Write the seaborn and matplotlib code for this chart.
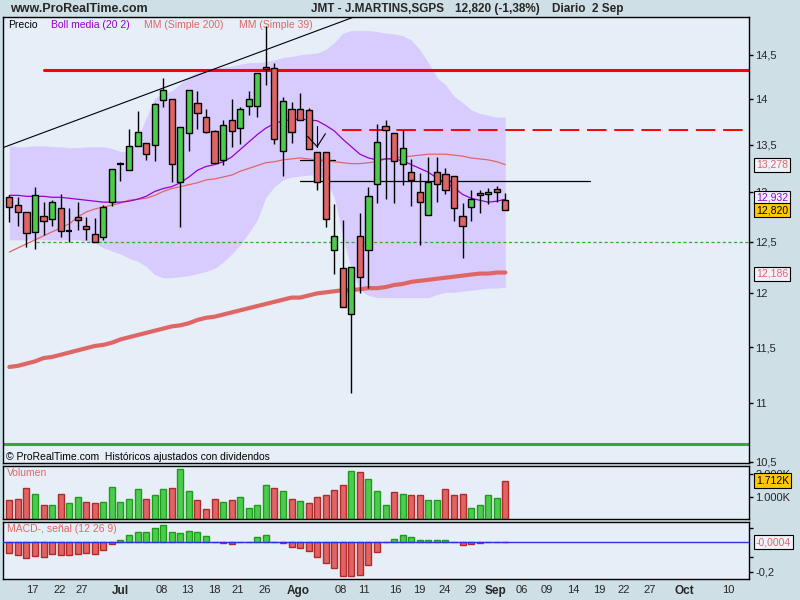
import matplotlib
matplotlib.use("Agg")
import matplotlib.pyplot as plt
from matplotlib.colors import to_hex
from matplotlib.ticker import NullLocator
import seaborn as sns
import pandas as pd
import numpy as np

# daily bars (bar 0 = first visible session)
opens = [12.95, 12.87, 12.80, 12.60, 12.76, 12.73, 12.84, 12.61, 12.75, 12.66,
         12.58, 12.55, 12.90, 13.30, 13.23, 13.49, 13.52, 13.50, 13.99, 14.00,
         13.11, 13.63, 13.96, 13.80, 13.65, 13.34, 13.77, 13.68, 13.92, 13.92,
         14.36, 14.35, 13.43, 13.89, 13.89, 13.88, 13.42, 13.42, 12.42, 12.24,
         11.81, 12.56, 12.42, 13.09, 13.70, 13.63, 13.30, 13.21, 13.00, 12.77,
         13.21, 13.19, 13.17, 12.76, 12.85, 12.99, 12.98, 13.04, 12.92]
highs = [12.97, 12.95, 12.80, 13.06, 12.90, 12.92, 12.98, 12.84, 12.90, 12.75,
         12.74, 12.87, 13.24, 13.32, 13.67, 13.87, 13.52, 13.96, 14.23, 14.00,
         13.69, 14.10, 14.09, 13.89, 13.66, 13.77, 14.00, 13.91, 14.09, 14.29,
         14.83, 14.41, 14.02, 13.97, 14.07, 13.90, 13.42, 13.42, 12.88, 12.72,
         12.25, 12.79, 13.06, 13.73, 13.77, 13.63, 13.66, 13.35, 13.20, 13.37,
         13.37, 13.25, 13.17, 12.89, 13.02, 13.02, 13.05, 13.07, 12.99]
lows = [12.70, 12.66, 12.45, 12.43, 12.57, 12.66, 12.55, 12.50, 12.62, 12.52,
        12.50, 12.52, 12.86, 13.12, 13.23, 13.49, 13.34, 13.33, 13.91, 13.11,
        12.65, 13.43, 13.67, 13.63, 13.31, 13.29, 13.48, 13.51, 13.82, 13.80,
        14.16, 13.51, 13.17, 13.52, 13.77, 13.46, 13.03, 12.65, 12.19, 11.87,
        11.09, 12.00, 12.05, 12.89, 12.93, 12.89, 13.08, 12.86, 12.47, 12.77,
        12.90, 12.98, 12.71, 12.34, 12.71, 12.79, 12.88, 12.90, 12.82]
closes = [12.85, 12.80, 12.59, 12.97, 12.71, 12.90, 12.61, 12.61, 12.72, 12.63,
          12.50, 12.85, 13.24, 13.30, 13.49, 13.64, 13.40, 13.94, 14.10, 13.30,
          13.69, 14.10, 13.84, 13.64, 13.31, 13.71, 13.65, 13.89, 14.00, 14.29,
          14.34, 13.56, 13.98, 13.64, 13.77, 13.46, 13.11, 12.73, 12.56, 11.87,
          12.25, 12.16, 12.96, 13.53, 13.66, 13.33, 13.47, 13.13, 12.90, 13.11,
          13.09, 13.03, 12.84, 12.66, 12.93, 12.97, 13.00, 13.00, 12.82]

boll_upper = [13.49, 13.48, 13.48, 13.49, 13.49, 13.48, 13.48, 13.47, 13.47, 13.48,
              13.48, 13.48, 13.46, 13.43, 13.43, 13.57, 13.79, 14.01, 14.06, 14.09,
              14.17, 14.25, 14.30, 14.33, 14.35, 14.36, 14.37, 14.39, 14.41, 14.41,
              14.42, 14.44, 14.47, 14.48, 14.50, 14.51, 14.52, 14.56, 14.64, 14.75,
              14.78, 14.78, 14.78, 14.77, 14.75, 14.74, 14.72, 14.67, 14.56, 14.41,
              14.24, 14.16, 14.03, 13.96, 13.88, 13.84, 13.82, 13.80, 13.80]
boll_mid = [12.97, 12.97, 12.96, 12.96, 12.96, 12.95, 12.95, 12.94, 12.93, 12.92,
            12.91, 12.90, 12.90, 12.90, 12.91, 12.93, 12.96, 13.01, 13.04, 13.06,
            13.10, 13.16, 13.23, 13.27, 13.29, 13.32, 13.37, 13.45, 13.53, 13.61,
            13.68, 13.73, 13.76, 13.77, 13.78, 13.77, 13.76, 13.71, 13.65, 13.56,
            13.48, 13.40, 13.36, 13.34, 13.35, 13.35, 13.33, 13.29, 13.25, 13.21,
            13.15, 13.10, 13.05, 12.98, 12.94, 12.92, 12.90, 12.91, 12.93]
boll_lower = [12.52, 12.52, 12.52, 12.52, 12.52, 12.52, 12.52, 12.52, 12.52, 12.51,
              12.49, 12.44, 12.41, 12.38, 12.34, 12.31, 12.26, 12.18, 12.15, 12.15,
              12.16, 12.17, 12.19, 12.21, 12.24, 12.30, 12.38, 12.47, 12.59, 12.72,
              12.95, 13.06, 13.13, 13.16, 13.17, 13.18, 13.18, 13.13, 12.95, 12.55,
              12.23, 12.03, 11.98, 11.96, 11.96, 11.96, 11.96, 11.96, 11.96, 11.96,
              11.99, 12.01, 12.01, 12.02, 12.03, 12.04, 12.05, 12.05, 12.06]
mm39 = [12.40, 12.44, 12.48, 12.52, 12.56, 12.60, 12.64, 12.68, 12.75, 12.80,
        12.83, 12.85, 12.87, 12.89, 12.92, 12.93, 12.94, 12.97, 13.01, 13.04,
        13.06, 13.08, 13.10, 13.13, 13.14, 13.16, 13.18, 13.22, 13.25, 13.28,
        13.31, 13.32, 13.34, 13.35, 13.36, 13.35, 13.34, 13.33, 13.32, 13.31,
        13.30, 13.30, 13.31, 13.32, 13.35, 13.36, 13.37, 13.38, 13.39, 13.40,
        13.40, 13.40, 13.39, 13.38, 13.36, 13.35, 13.34, 13.32, 13.29]
mm200 = [11.32, 11.33, 11.35, 11.37, 11.40, 11.41, 11.43, 11.45, 11.47, 11.49,
         11.51, 11.52, 11.54, 11.57, 11.59, 11.61, 11.63, 11.65, 11.67, 11.69,
         11.70, 11.72, 11.75, 11.77, 11.78, 11.80, 11.82, 11.84, 11.86, 11.88,
         11.90, 11.92, 11.94, 11.96, 11.96, 11.98, 12.00, 12.01, 12.02, 12.03,
         12.03, 12.04, 12.05, 12.05, 12.06, 12.08, 12.09, 12.11, 12.12, 12.13,
         12.14, 12.15, 12.16, 12.17, 12.18, 12.19, 12.19, 12.20, 12.20]

# volume in thousands, with the colour the chart gives each bar
volume_k = [0.84, 0.91, 1.39, 1.10, 0.61, 0.61, 1.13, 0.71, 0.96, 0.75,
            0.71, 0.75, 1.43, 0.75, 0.88, 1.35, 0.88, 1.06, 1.32, 1.39,
            2.22, 1.26, 0.84, 0.45, 0.88, 0.75, 0.84, 1.00, 0.49, 0.62,
            1.53, 1.39, 1.26, 0.88, 0.80, 0.71, 0.97, 1.06, 1.27, 1.53,
            2.14, 2.10, 1.78, 1.23, 0.62, 1.19, 1.10, 1.06, 1.06, 0.84,
            0.84, 1.32, 1.06, 1.10, 0.49, 0.62, 1.06, 0.93, 1.712]
volume_dir = ["down", "down", "down", "up", "down", "up", "down", "up", "up", "down",
              "down", "up", "up", "up", "up", "up", "down", "up", "up", "down",
              "up", "up", "down", "down", "down", "up", "down", "up", "up", "up",
              "up", "down", "up", "down", "up", "down", "down", "down", "down", "down",
              "up", "down", "up", "up", "up", "down", "up", "down", "down", "up",
              "up", "down", "down", "down", "up", "up", "up", "up", "down"]

macd_hist = [-0.075, -0.088, -0.109, -0.091, -0.098, -0.082, -0.088, -0.088, -0.082, -0.075,
             -0.082, -0.055, -0.014, 0.016, 0.048, 0.070, 0.070, 0.095, 0.116, 0.070,
             0.063, 0.077, 0.070, 0.041, 0.001, -0.007, -0.014, 0.001, 0.005, 0.034,
             0.048, -0.001, -0.007, -0.034, -0.041, -0.061, -0.102, -0.143, -0.177, -0.232,
             -0.232, -0.225, -0.157, -0.068, -0.001, 0.020, 0.048, 0.034, 0.016, 0.016,
             0.016, 0.016, 0.001, -0.021, -0.014, -0.007, 0.001, 0.005, -0.0004]

# drawn levels on the price panel
red_level = 14.33
red_dash_level = 13.66
black_level = 13.12
black_short_level = 13.34
green_dash_level = 12.50
green_level = 10.65

price_ticks = [10.5, 11, 11.5, 12, 12.5, 13, 13.5, 14, 14.5]
price_tick_labels = ["10,5", "11", "11,5", "12", "12,5", "13", "13,5", "14", "14,5"]

date_labels = ["17", "22", "27", "Jul", "08", "13", "18", "21", "26", "Ago",
               "08", "11", "16", "19", "24", "29", "Sep", "06", "09", "14",
               "19", "22", "27", "Oct", "10"]
date_label_bars = [2.65, 5.93, 8.5, 12.95, 17.86, 20.8, 23.94, 26.7, 29.9, 33.8,
                   38.8, 41.5, 45.1, 47.9, 50.9, 53.9, 56.9, 59.9, 62.9, 65.9,
                   69.0, 71.9, 74.9, 78.9, 84.1]
months = ["Jul", "Ago", "Sep", "Oct"]

sns.set_style("white")
plt.rcParams["font.family"] = ["Liberation Sans", "DejaVu Sans"]

BG = "#cfdfe6"
PANEL = "#e6eef7"
GREEN = "#4ccc4c"
RED = "#e06464"
SALMON = "#e06666"
PURPLE = "#9900cc"
TAG_BG = "#eef3fa"
GOLD = "#ffc800"

df = pd.DataFrame({
    "bar": np.arange(len(closes)),
    "open": opens, "high": highs, "low": lows, "close": closes,
    "boll_upper": boll_upper, "boll_mid": boll_mid, "boll_lower": boll_lower,
    "mm39": mm39, "mm200": mm200,
    "volume": volume_k, "vol_dir": volume_dir,
    "macd": macd_hist,
})
df["macd_dir"] = np.where(df["macd"] >= 0, "up", "down")

fig = plt.figure(figsize=(8, 6), dpi=100, facecolor=BG)
ax = fig.add_axes([3 / 800, 1 - 463 / 600, 746 / 800, 446 / 600], facecolor=PANEL)
axv = fig.add_axes([3 / 800, 1 - 519 / 600, 746 / 800, 53 / 600], facecolor=PANEL)
axm = fig.add_axes([3 / 800, 1 - 579 / 600, 746 / 800, 57 / 600], facecolor=PANEL)

x_lo, x_hi = -0.74, 86.5

# ---- price panel
ax.set_yscale("log")
ax.fill_between(df["bar"], df["boll_lower"], df["boll_upper"], color="#d8ccff", lw=0, zorder=1)

ax.plot([4.0, x_hi], [red_level] * 2, color="#ff0000", lw=2.2, zorder=2)
ax.plot([38.9, x_hi], [red_dash_level] * 2, color="#ff0000", lw=1.4, ls=(0, (10, 4)), zorder=2)
ax.plot([34.0, 67.9], [black_level] * 2, color="black", lw=0.9, zorder=2)
ax.plot([34.0, 38.1], [black_short_level] * 2, color="black", lw=0.9, zorder=2)
ax.plot([3.1, x_hi], [green_dash_level] * 2, color="#33aa33", lw=0.9, ls=(0, (2.5, 2)), zorder=2)
ax.axhline(green_level, color="#33aa33", lw=2.2, zorder=2)
ax.plot([x_lo, 40.3], [13.47, 14.94], color="black", lw=0.8, zorder=2)
# small down arrow drawn by hand on the chart
ax.plot([36.0, 36.0], [13.70, 13.48], color="black", lw=0.8, zorder=6)
ax.plot([34.9, 36.0, 36.96], [13.59, 13.48, 13.62], color="black", lw=0.8, zorder=6)

sns.lineplot(data=df, x="bar", y="mm200", ax=ax, color=SALMON, lw=3, zorder=3)
sns.lineplot(data=df, x="bar", y="mm39", ax=ax, color=SALMON, lw=0.9, zorder=3)
sns.lineplot(data=df, x="bar", y="boll_mid", ax=ax, color=PURPLE, lw=0.9, zorder=3)

ax.vlines(df["bar"], df["low"], df["high"], color="black", lw=1, zorder=4)
up = df[df["close"] > df["open"]]
down = df[df["close"] < df["open"]]
flat = df[df["close"] == df["open"]]
ax.bar(up["bar"], up["close"] - up["open"], bottom=up["open"], width=0.72,
       color=GREEN, edgecolor="black", lw=1, zorder=5)
ax.bar(down["bar"], down["close"] - down["open"], bottom=down["open"], width=0.72,
       color=RED, edgecolor="black", lw=1, zorder=5)
ax.hlines(flat["close"], flat["bar"] - 0.36, flat["bar"] + 0.36, color="black", lw=1.6, zorder=5)

ax.set_ylim(10.49, 14.94)
ax.set_yticks(price_ticks, labels=price_tick_labels)
ax.yaxis.set_minor_locator(NullLocator())

ax.text(0.0067, 0.982, "Precio", transform=ax.transAxes, fontsize=7.5, color="black", va="center")
ax.text(0.0643, 0.982, "Boll media (20 2)", transform=ax.transAxes, fontsize=7.5, color=PURPLE, va="center")
ax.text(0.1886, 0.982, "MM (Simple 200)", transform=ax.transAxes, fontsize=7.5, color=SALMON, va="center")
ax.text(0.3164, 0.982, "MM (Simple 39)", transform=ax.transAxes, fontsize=7.5, color=SALMON, va="center")
ax.text(0.004, 0.014, "\u00a9 ProRealTime.com  Hist\u00f3ricos ajustados con dividendos",
        transform=ax.transAxes, fontsize=7.5, color="black", va="center")


def tag(axis, value, text, fg, bg, z=10):
    axis.text(1.0094, value, text, transform=axis.get_yaxis_transform(), ha="left", va="center",
              fontsize=7.5, color=fg, clip_on=False, zorder=z,
              bbox=dict(boxstyle="square,pad=0.2", fc=bg, ec="black", lw=0.8))


tag(ax, mm39[-1] - 0.002, "13,278", SALMON, TAG_BG)
tag(ax, 12.945, "12,932", PURPLE, TAG_BG, z=10)
tag(ax, closes[-1], "12,820", "black", GOLD, z=11)
tag(ax, 12.186, "12,186", SALMON, TAG_BG)

# ---- volume panel
sns.barplot(data=df, x="bar", y="volume", hue="vol_dir", palette={"up": GREEN, "down": RED},
            native_scale=True, width=0.7, saturation=1, errorbar=None, legend=False,
            linewidth=1, ax=axv)
axv.set_ylim(0, 2.36)
axv.set_yticks([1.0, 2.0], labels=["1.000K", "2.000K"])
axv.text(0.0054, 0.874, "Volumen", transform=axv.transAxes, fontsize=7.5, color=SALMON, va="center")
tag(axv, volume_k[-1], "1.712K", "black", GOLD)

# ---- MACD panel
sns.barplot(data=df, x="bar", y="macd", hue="macd_dir", palette={"up": GREEN, "down": RED},
            native_scale=True, width=0.7, saturation=1, errorbar=None, legend=False,
            linewidth=1, ax=axm)
axm.axhline(0, color="#3030dd", lw=1, zorder=5)
axm.set_ylim(-0.25, 0.138)
axm.set_yticks([0.1, -0.1, -0.2], labels=["", "", "-0,2"])
axm.text(0.0054, 0.882, "MACD-, se\u00f1al (12 26 9)", transform=axm.transAxes, fontsize=7.5,
         color=SALMON, va="center")
tag(axm, macd_hist[-1], "-0,0004", SALMON, TAG_BG)

for a in (axv, axm):
    for p in a.patches:
        fc = to_hex(p.get_facecolor())
        p.set_edgecolor("#1f9a1f" if fc == GREEN else "#b02a2a")

# ---- shared axis styling
for a in (ax, axv, axm):
    a.set_xlim(x_lo, x_hi)
    a.set_xlabel("")
    a.set_ylabel("")
    a.yaxis.tick_right()
    a.tick_params(axis="y", which="major", right=True, left=False, direction="out",
                  length=3, width=1, color="black", labelsize=8, pad=1.5)
    a.tick_params(axis="x", length=0)
    for s in a.spines.values():
        s.set_visible(True)
        s.set_color("black")
        s.set_linewidth(1)

ax.tick_params(axis="x", labelbottom=False)
axv.tick_params(axis="x", labelbottom=False)
axm.set_xticks(date_label_bars, labels=date_labels)
axm.tick_params(axis="x", labelsize=8, pad=4)
for lbl in axm.get_xticklabels():
    if lbl.get_text() in months:
        lbl.set_fontweight("bold")
        lbl.set_fontsize(8.5)

# ---- header
fig.text(10 / 800, 1 - 9 / 600, "www.ProRealTime.com", fontsize=9, fontweight="bold", va="center")
fig.text(311 / 800, 1 - 9 / 600, "JMT - J.MARTINS,SGPS", fontsize=8.5, fontweight="bold", va="center")
fig.text(455 / 800, 1 - 9 / 600, "12,820 (-1,38%)", fontsize=8.5, fontweight="bold", va="center")
fig.text(552 / 800, 1 - 9 / 600, "Diario  2 Sep", fontsize=8.5, fontweight="bold", va="center")

fig.savefig("out.png", dpi=100, facecolor=fig.get_facecolor())
